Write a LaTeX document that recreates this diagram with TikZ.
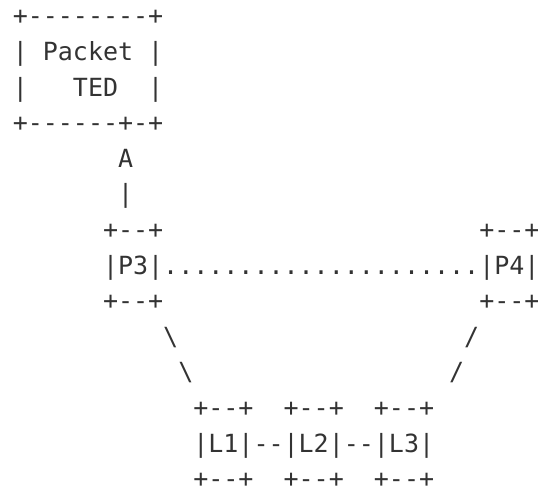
\documentclass[tikz,border=0pt]{standalone}
\usepackage{fontspec}
\setmonofont{DejaVu Sans Mono}
\begin{document}
\begin{tikzpicture}[x=11.2875pt, y=-26.7pt,
  every node/.style={anchor=base west, inner sep=0pt, text=black!80,
    font=\ttfamily\fontsize{18.75pt}{26.7pt}\selectfont}]
\useasboundingbox (-0.83,-0.70) rectangle (34.92,13.09);
% packet TED box
\node (tedtop) at (0,0) {+--------+};
\node (tedl1) at (0,1) {|};
\node (tedname) at (2,1) {Packet};
\node (tedr1) at (9,1) {|};
\node (tedl2) at (0,2) {|};
\node (tedsub) at (4,2) {TED};
\node (tedr2) at (9,2) {|};
\node (tedbot) at (0,3) {+------+-+};
\node (arrowhead) at (7,4) {A};
\node (arrowline) at (7,5) {|};
% P3 and P4
\node (ptop3) at (6,6) {+--+};
\node (ptop4) at (31,6) {+--+};
\node (p3) at (6,7) {|P3|};
\node (dots) at (10,7) {.....................};
\node (p4) at (31,7) {|P4|};
\node (pbot3) at (6,8) {+--+};
\node (pbot4) at (31,8) {+--+};
\node (back1) at (10,9) {\textbackslash};
\node (slash1) at (30,9) {/};
\node (back2) at (11,10) {\textbackslash};
\node (slash2) at (29,10) {/};
% L1 L2 L3
\node (ltop1) at (12,11) {+--+};
\node (ltop2) at (18,11) {+--+};
\node (ltop3) at (24,11) {+--+};
\node (l1) at (12,12) {|L1|};
\node (link12) at (16,12) {--};
\node (l2) at (18,12) {|L2|};
\node (link23) at (22,12) {--};
\node (l3) at (24,12) {|L3|};
\node (lbot1) at (12,13) {+--+};
\node (lbot2) at (18,13) {+--+};
\node (lbot3) at (24,13) {+--+};
\end{tikzpicture}
\end{document}
